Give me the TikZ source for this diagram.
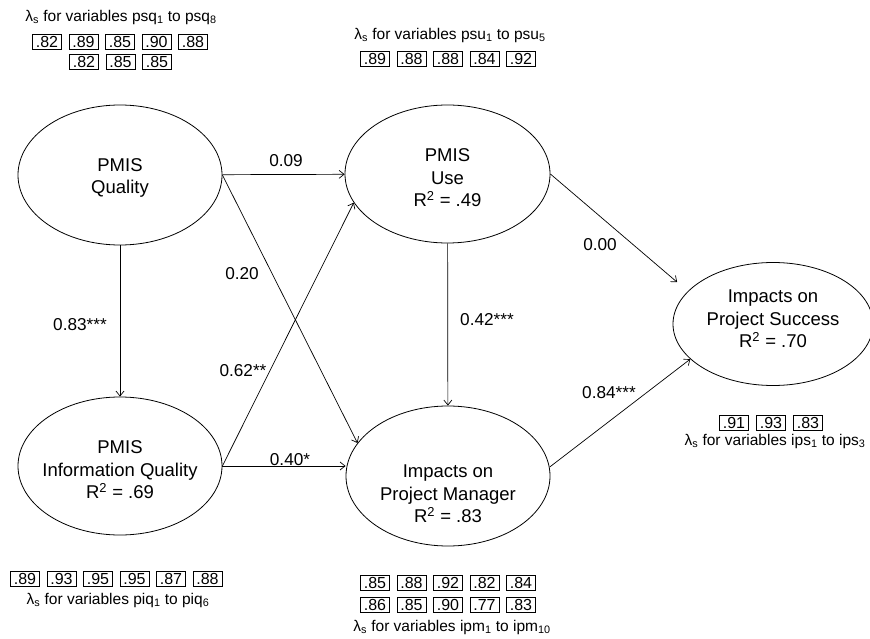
\documentclass[tikz,border=0pt]{standalone}
\usepackage{fontspec}
\setmainfont{Liberation Sans}
\usetikzlibrary{arrows.meta,shapes.geometric}

\begin{document}
\begin{tikzpicture}[>={Straight Barb[length=5pt,width=8pt]}, x=1pt, y=-1pt,
    latent/.style={draw, ellipse, line width=0.8pt, minimum width=204pt, minimum height=140pt, inner sep=0pt},
    ltext/.style={align=center, font=\fontsize{18.5}{22.5}\selectfont},
    coef/.style={font=\fontsize{17.2}{20}\selectfont},
    link/.style={->, line width=0.7pt},
    lbox/.style={draw, line width=0.6pt, minimum width=29pt, minimum height=15pt, inner sep=0pt, font=\fontsize{16}{16}\selectfont},
    lam/.style={font=\fontsize{15.5}{18}\selectfont}]
  \useasboundingbox (0,0) rectangle (870,639);

  % latent constructs
  \node[latent] (qual) at (120,175) {};
  \node[latent, minimum width=205pt, minimum height=138pt] (use) at (447.5,174) {};
  \node[latent, minimum height=138pt] (iq) at (120,466) {};
  \node[latent] (pm) at (448,476) {};
  \node[latent, minimum width=200pt, minimum height=123pt] (succ) at (773,324) {};

  \node[ltext] (qualtxt) at (120,178) {PMIS\\Quality};
  \node[ltext] (usetxt) at (447.5,178) {PMIS\\Use\\R\textsuperscript{2} = .49};
  \node[ltext] (iqtxt) at (120,470) {PMIS\\Information Quality\\R\textsuperscript{2} = .69};
  \node[ltext] (pmtxt) at (448,494) {Impacts on\\Project Manager\\R\textsuperscript{2} = .83};
  \node[ltext] (succtxt) at (773,319) {Impacts on\\Project Success\\R\textsuperscript{2} = .70};

  % structural paths
  \draw[link] (qual) -- (use);
  \draw[link] (qual.east) -- (pm.160);
  \draw[link] (qual) -- (iq);
  \draw[link] (iq.east) -- (use.197);
  \draw[link] (iq.east) -- (iq.east -| pm.west);
  \draw[link] (use) -- (pm);
  \draw[link, shorten >=14pt] (use.east) -- (succ.159);
  \draw[link] (pm.5) -- (succ.203);

  \node[coef] (c09) at (286,161) {0.09};
  \node[coef] (c20) at (242,274) {0.20};
  \node[coef] (c83) at (80,325) {0.83***};
  \node[coef] (c62) at (243,371) {0.62**};
  \node[coef] (c40) at (290,460) {0.40*};
  \node[coef] (c42) at (487,320) {0.42***};
  \node[coef] (c00) at (600,245) {0.00};
  \node[coef] (c84) at (609,393) {0.84***};

  % loadings: PMIS Quality
  \node[lam] (psqlab) at (121,17) {λ\textsubscript{s} for variables psq\textsubscript{1} to psq\textsubscript{8}};
  \foreach \v [count=\i] in {.82,.89,.85,.90,.88}
    \node[lbox] (psq\i) at ({47+36.5*(\i-1)},42) {\v};
  \foreach \v [count=\i from 6] in {.82,.85,.85}
    \node[lbox] (psq\i) at ({84+36.5*(\i-6)},62) {\v};

  % loadings: PMIS Use
  \node[lam] (psulab) at (450,35) {λ\textsubscript{s} for variables psu\textsubscript{1} to psu\textsubscript{5}};
  \foreach \v [count=\i] in {.89,.88,.88,.84,.92}
    \node[lbox] (psu\i) at ({375+36.5*(\i-1)},59) {\v};

  % loadings: PMIS Information Quality
  \foreach \v [count=\i] in {.89,.93,.95,.95,.87,.88}
    \node[lbox] (piq\i) at ({25+36.5*(\i-1)},579) {\v};
  \node[lam] (piqlab) at (118,600) {λ\textsubscript{s} for variables piq\textsubscript{1} to piq\textsubscript{6}};

  % loadings: Impacts on Project Manager
  \foreach \v [count=\i] in {.85,.88,.92,.82,.84}
    \node[lbox] (ipm\i) at ({375+36.5*(\i-1)},583) {\v};
  \foreach \v [count=\i from 6] in {.86,.85,.90,.77,.83}
    \node[lbox] (ipm\i) at ({375+36.5*(\i-6)},605) {\v};
  \node[lam] (ipmlab) at (452,627) {λ\textsubscript{s} for variables ipm\textsubscript{1} to ipm\textsubscript{10}};

  % loadings: Impacts on Project Success
  \foreach \v [count=\i] in {.91,.93,.83}
    \node[lbox] (ips\i) at ({734+37*(\i-1)},423) {\v};
  \node[lam] (ipslab) at (775,441) {λ\textsubscript{s} for variables ips\textsubscript{1} to ips\textsubscript{3}};
\end{tikzpicture}
\end{document}
